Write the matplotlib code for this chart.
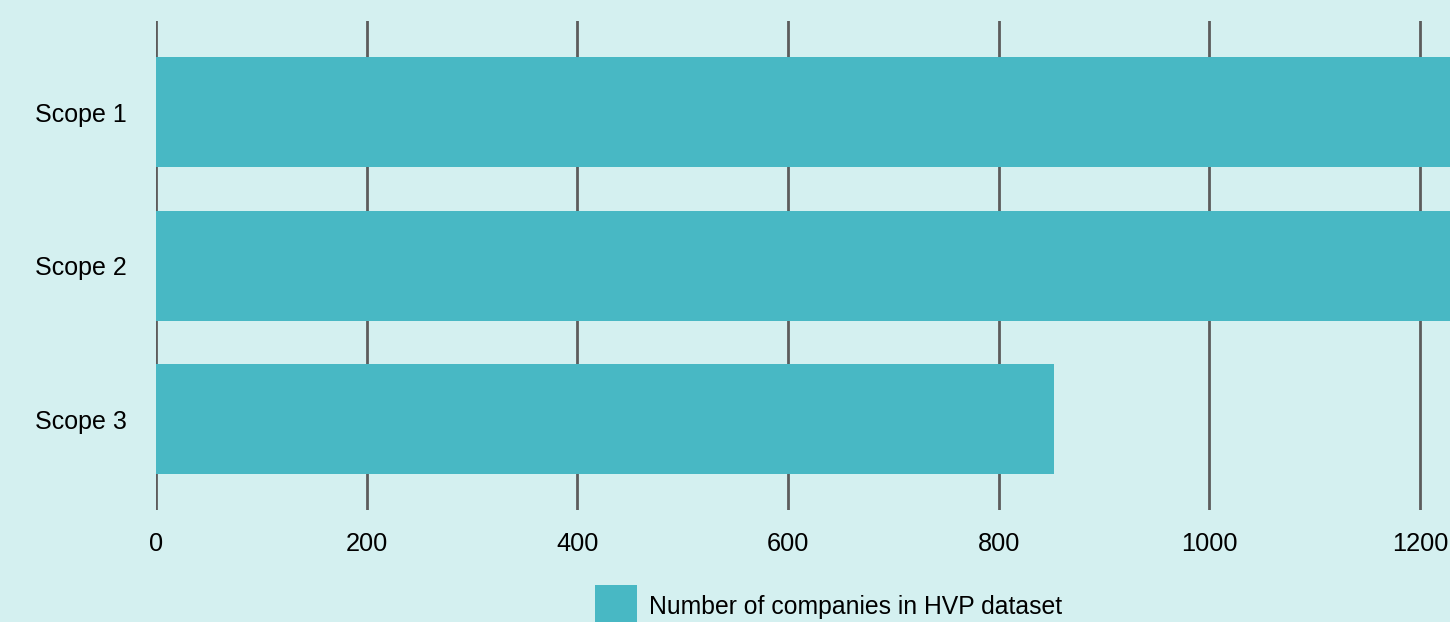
import matplotlib.pyplot as plt
from matplotlib.patches import Patch

plt.rcParams['font.family'] = ['Liberation Sans', 'DejaVu Sans']

scopes = ["Scope 1", "Scope 2", "Scope 3"]
companies = [1320, 1310, 853]
xticks = [0, 200, 400, 600, 800, 1000, 1200]

bg = "#d4f0f0"
bar_color = "#48b8c4"
grid_color = "#5c5c5c"

fig = plt.figure(figsize=(14.5, 6.22), dpi=100, facecolor=bg)
ax = fig.add_axes([0.1076, 0.180, 0.8924, 0.786], facecolor=bg)

ax.barh(range(len(scopes)), companies, height=0.717, color=bar_color, zorder=2)

ax.set_xlim(0, 1228.5)
ax.set_ylim(2.593, -0.593)
ax.set_xticks(xticks)
ax.set_xticklabels([str(t) for t in xticks])
ax.set_yticks(range(len(scopes)))
ax.set_yticklabels(scopes)
ax.xaxis.grid(True, color=grid_color, linewidth=2, zorder=1)
ax.set_axisbelow(True)
ax.tick_params(axis='x', length=0, pad=15.5, labelsize=18.3)
ax.tick_params(axis='y', length=0, pad=21, labelsize=18)
for s in ax.spines.values():
    s.set_visible(False)

handle = Patch(facecolor=bar_color, edgecolor='none')
fig.legend([handle], ["Number of companies in HVP dataset"],
           loc='upper left', bbox_to_anchor=(595 / 1450, 1 - 585 / 622),
           frameon=False, fontsize=17.8, borderpad=0, borderaxespad=0,
           handlelength=1.7, handleheight=2.28, handletextpad=0.5)

fig.savefig("out.png", dpi=100, facecolor=bg)
